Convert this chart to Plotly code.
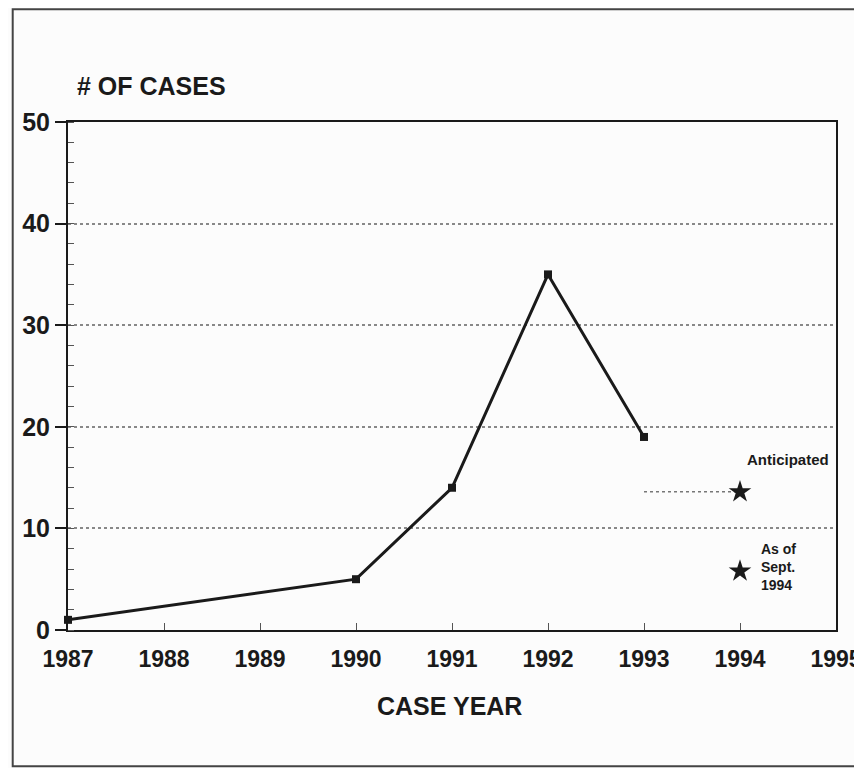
import plotly.graph_objects as go

# ---- data ----
years = [1987, 1990, 1991, 1992, 1993]
cases = [1, 5, 14, 35, 19]
proj_year = 1994
anticipated = 13.6
as_of_sept = 5.8
x_ticks = [1987, 1988, 1989, 1990, 1991, 1992, 1993, 1994, 1995]
y_ticks = [0, 10, 20, 30, 40, 50]

FONT = "Liberation Sans, Arial, Helvetica, sans-serif"
INK = "#1a1a1a"

fig = go.Figure()

# dotted connector to anticipated value
fig.add_trace(go.Scatter(
    x=[years[-1], proj_year], y=[anticipated, anticipated],
    mode="lines", line=dict(color="#777", width=1.5, dash="dot"),
    hoverinfo="skip", showlegend=False))

# main series
fig.add_trace(go.Scatter(
    x=years, y=cases, mode="lines+markers", cliponaxis=False,
    line=dict(color=INK, width=3),
    marker=dict(symbol="square", size=8, color=INK),
    showlegend=False))

# stars
fig.add_trace(go.Scatter(
    x=[proj_year, proj_year], y=[anticipated, as_of_sept], mode="markers",
    marker=dict(symbol="star", size=17, color=INK),
    showlegend=False))

fig.update_xaxes(
    range=[1987, 1995], tickvals=x_ticks, ticktext=[f"<b>{v}</b>" for v in x_ticks],
    showline=True, linecolor=INK, linewidth=2, mirror=True,
    ticks="inside", ticklen=7, tickcolor="#555", tickwidth=1,
    ticklabelstandoff=7,
    showgrid=False, zeroline=False, automargin=False,
    tickfont=dict(family=FONT, size=23, color=INK))

fig.update_yaxes(
    range=[0, 50], tickvals=y_ticks, ticktext=[f"<b>{v}</b>" for v in y_ticks],
    showline=True, linecolor=INK, linewidth=2, mirror=True,
    ticks="outside", ticklen=11, tickcolor=INK, tickwidth=2,
    minor=dict(dtick=2, ticks="inside", ticklen=6, tickcolor="#555", tickwidth=1, showgrid=False),
    showgrid=True, gridcolor="#888", gridwidth=1.5, griddash="dot",
    zeroline=False, automargin=False,
    tickfont=dict(family=FONT, size=25, color=INK))

# page body has an 8px default margin, so the figure is sized and offset to compensate
fig.update_layout(
    width=854, height=760,
    margin=dict(l=60, r=26, t=114, b=138, autoexpand=False),
    paper_bgcolor="#fcfcfc", plot_bgcolor="#fcfcfc",
    font=dict(family=FONT, color=INK),
    showlegend=False)

# outer page frame
fig.add_shape(type="rect", xref="paper", yref="paper",
              x0=-0.072, x1=1.026, y0=-0.268, y1=1.222,
              line=dict(color="#444", width=2), fillcolor="rgba(0,0,0,0)", layer="below")

fig.add_annotation(text="<b># OF CASES</b>", xref="paper", yref="paper",
                   x=0.009, y=1.07, xanchor="left", yanchor="middle",
                   showarrow=False, font=dict(family=FONT, size=25, color=INK))
fig.add_annotation(text="<b>CASE YEAR</b>", xref="paper", yref="paper",
                   x=0.497, y=-0.15, xanchor="center", yanchor="middle",
                   showarrow=False, font=dict(family=FONT, size=25, color=INK))
fig.add_annotation(text="<b>Anticipated</b>", x=proj_year, y=anticipated,
                   xanchor="right", yanchor="middle", xshift=91, yshift=32,
                   showarrow=False, font=dict(family=FONT, size=15, color=INK))
fig.add_annotation(text="<b>As of<br>Sept.<br>1994</b>", x=proj_year, y=as_of_sept,
                   xanchor="left", yanchor="middle", xshift=19, yshift=4, align="left",
                   showarrow=False, font=dict(family=FONT, size=14, color=INK))

fig.write_html("out.html")
